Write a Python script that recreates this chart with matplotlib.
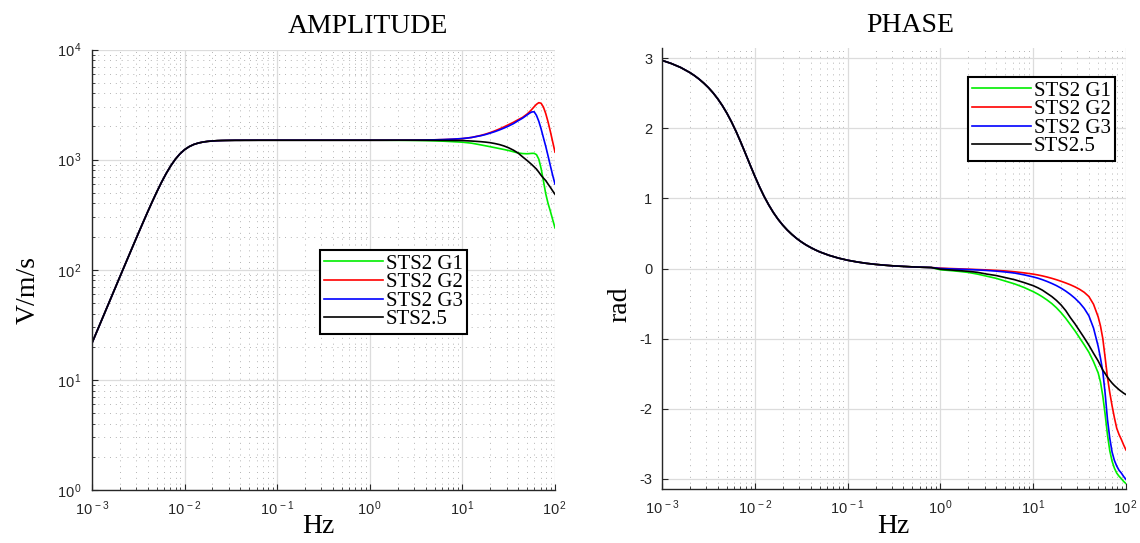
import numpy as np
import matplotlib
matplotlib.use('Agg')
import matplotlib.pyplot as plt
from matplotlib.ticker import LogLocator, FixedLocator, NullFormatter, FuncFormatter

# ---------------- data ----------------
series_names = ['STS2 G1', 'STS2 G2', 'STS2 G3', 'STS2.5']
series_colors = ['#00ee00', '#ff0000', '#0000ff', '#000000']

# sample frequencies, log10(Hz)
logf_low = [-3.0, -2.9, -2.8, -2.7, -2.65, -2.6, -2.55, -2.5, -2.45, -2.4,
            -2.35, -2.3, -2.25, -2.2, -2.15, -2.1, -2.05, -2.0, -1.95, -1.9,
            -1.85, -1.8, -1.75, -1.7, -1.65, -1.6, -1.55, -1.5, -1.45, -1.4,
            -1.35, -1.3, -1.2, -1.1, -1.0, -0.9, -0.8, -0.7, -0.6, -0.5,
            -0.4, -0.3, -0.2, -0.1]
logf_high = [0.0, 0.1, 0.2, 0.3, 0.4, 0.5, 0.6, 0.7, 0.8, 0.9, 1.0,
             1.05, 1.1, 1.15, 1.2, 1.25, 1.3, 1.35, 1.4, 1.45, 1.5, 1.55, 1.6, 1.65,
             1.7, 1.725, 1.75, 1.775, 1.8, 1.825, 1.85, 1.875, 1.9, 1.925, 1.95, 1.975, 2.0]

# shared low-frequency part (all sensors coincide), V/m/s and rad
amp_low = [21.6, 34.2, 54.2, 85.8, 107.9, 135.6, 170.3, 213.6, 267.3, 333.5,
           413.9, 509.8, 621.3, 745.6, 877.3, 1008, 1129, 1232, 1313, 1374,
           1416, 1445, 1465, 1477, 1486, 1491, 1494, 1496, 1498, 1498,
           1499, 1499, 1500, 1500, 1500, 1500, 1500, 1500, 1500, 1500,
           1500, 1500, 1500, 1500]
phase_low = [2.971, 2.926, 2.870, 2.797, 2.753, 2.703, 2.646, 2.582, 2.508, 2.423,
             2.326, 2.215, 2.090, 1.951, 1.799, 1.639, 1.477, 1.318, 1.168, 1.030,
             0.908, 0.799, 0.704, 0.621, 0.549, 0.486, 0.430, 0.381, 0.338, 0.301,
             0.267, 0.237, 0.188, 0.149, 0.118, 0.094, 0.074, 0.059, 0.047, 0.037,
             0.030, 0.023, 0.018, 0.014]

# high-frequency part, amplitude (V/m/s)
amp_g1 = [1500, 1500, 1499, 1498, 1496, 1493, 1488, 1480, 1470, 1455, 1440,
          1425, 1410, 1385, 1360, 1335, 1310, 1285, 1260, 1235, 1210, 1180, 1150, 1135,
          1130, 1135, 1140, 1140, 1110, 1010, 830, 640, 490, 400, 340, 285, 240]
amp_g2 = [1500, 1500, 1501, 1502, 1503, 1505, 1508, 1513, 1520, 1532, 1550,
          1570, 1590, 1625, 1660, 1705, 1760, 1825, 1900, 1985, 2080, 2180, 2300, 2420,
          2600, 2720, 2860, 3020, 3180, 3290, 3250, 3000, 2620, 2200, 1800, 1450, 1170]
amp_g3 = [1500, 1500, 1501, 1502, 1503, 1505, 1508, 1513, 1522, 1535, 1555,
          1570, 1590, 1620, 1650, 1690, 1740, 1795, 1860, 1935, 2020, 2120, 2250, 2380,
          2550, 2640, 2710, 2720, 2520, 2230, 1900, 1580, 1320, 1080, 880, 720, 600]
amp_sts25 = [1500, 1500, 1500, 1500, 1500, 1499, 1498, 1497, 1495, 1492, 1490,
             1482, 1475, 1465, 1455, 1442, 1425, 1400, 1370, 1330, 1280, 1220, 1150, 1060,
             980, 940, 900, 860, 820, 770, 720, 680, 645, 600, 560, 520, 485]

# high-frequency part, phase (rad)
phase_g1 = [-0.018, -0.029, -0.041, -0.056, -0.080, -0.110, -0.140, -0.180, -0.220, -0.270, -0.330,
            -0.365, -0.405, -0.450, -0.500, -0.560, -0.630, -0.710, -0.800, -0.890, -0.990, -1.090, -1.195, -1.330,
            -1.490, -1.620, -1.820, -2.080, -2.370, -2.600, -2.750, -2.850, -2.920, -2.965, -3.000, -3.040, -3.070]
phase_g2 = [0.005, 0.000, -0.005, -0.010, -0.015, -0.020, -0.027, -0.035, -0.047, -0.062, -0.080,
            -0.092, -0.106, -0.122, -0.140, -0.160, -0.182, -0.206, -0.232, -0.262, -0.297, -0.340, -0.400, -0.510,
            -0.690, -0.820, -1.000, -1.270, -1.550, -1.770, -1.960, -2.130, -2.280, -2.370, -2.440, -2.520, -2.590]
phase_g3 = [0.000, -0.005, -0.010, -0.015, -0.020, -0.028, -0.037, -0.050, -0.065, -0.090, -0.120,
            -0.138, -0.160, -0.185, -0.213, -0.244, -0.280, -0.322, -0.370, -0.425, -0.490, -0.570, -0.675, -0.850,
            -1.110, -1.280, -1.470, -1.780, -2.150, -2.420, -2.620, -2.740, -2.820, -2.880, -2.920, -2.970, -3.010]
phase_sts25 = [-0.010, -0.020, -0.030, -0.040, -0.055, -0.080, -0.100, -0.130, -0.160, -0.200, -0.245,
               -0.275, -0.310, -0.355, -0.400, -0.455, -0.520, -0.600, -0.700, -0.790, -0.890, -0.990, -1.095, -1.210,
               -1.320, -1.385, -1.450, -1.500, -1.550, -1.595, -1.635, -1.670, -1.700, -1.730, -1.755, -1.780, -1.800]

amp_series = [amp_g1, amp_g2, amp_g3, amp_sts25]
phase_series = [phase_g1, phase_g2, phase_g3, phase_sts25]

# ---------------- style ----------------
plt.rcParams['mathtext.fontset'] = 'custom'
plt.rcParams['mathtext.rm'] = 'Liberation Sans'
plt.rcParams['mathtext.it'] = 'Liberation Sans'
plt.rcParams['font.family'] = ['Liberation Sans', 'DejaVu Sans']

W, H = 1140, 543
fig = plt.figure(figsize=(W / 100, H / 100), dpi=100)


def ax_rect(x0, y0, x1, y1):
    return [x0 / W, 1 - y1 / H, (x1 - x0) / W, (y1 - y0) / H]


ax1 = fig.add_axes(ax_rect(92, 49.5, 555, 490))
ax2 = fig.add_axes(ax_rect(662, 48.4, 1126, 488.6))

freq = 10.0 ** np.array(logf_low + logf_high)

tick_color = '#262626'
serif = 'Liberation Serif'


def pow10_fmt(v, pos):
    e = int(round(np.log10(v)))
    return r'$\mathregular{10^{\,%d}}$' % e


for ax in (ax1, ax2):
    ax.set_xscale('log')
    ax.set_xlim(1e-3, 1e2)
    for s in ('top', 'right'):
        ax.spines[s].set_visible(False)
    for s in ('left', 'bottom'):
        ax.spines[s].set_color(tick_color)
        ax.spines[s].set_linewidth(1.0)
    ax.xaxis.set_major_locator(LogLocator(base=10, numticks=10))
    ax.xaxis.set_minor_locator(LogLocator(base=10, subs=np.arange(2, 10), numticks=20))
    ax.xaxis.set_minor_formatter(NullFormatter())
    ax.xaxis.set_major_formatter(FuncFormatter(pow10_fmt))
    ax.tick_params(which='both', direction='in', colors=tick_color, labelsize=10.5,
                   top=False, right=False)
    ax.tick_params(which='major', length=4, width=0.8, pad=7)
    ax.tick_params(which='minor', length=2.2, width=0.6)
    ax.grid(True, which='major', color='#dcdcdc', linewidth=0.9, linestyle='-')
    ax.set_axisbelow(True)

# minor grids (dotted)
ax1.grid(True, which='minor', color='#b4b4b4', linewidth=0.7, linestyle=(0, (1, 5)))
ax2.xaxis.grid(True, which='minor', color='#b4b4b4', linewidth=0.7, linestyle=(0, (1, 5)))

# amplitude
ax1.set_yscale('log')
ax1.set_ylim(1, 1e4)
ax1.yaxis.set_major_locator(LogLocator(base=10, numticks=10))
ax1.yaxis.set_minor_locator(LogLocator(base=10, subs=np.arange(2, 10), numticks=20))
ax1.yaxis.set_minor_formatter(NullFormatter())
ax1.yaxis.set_major_formatter(FuncFormatter(pow10_fmt))

for name, col, hi_part in zip(series_names, series_colors, amp_series):
    ax1.plot(freq, amp_low + hi_part, color=col, linewidth=1.2, label=name)

# phase
ax2.set_ylim(-np.pi, np.pi)
ax2.yaxis.set_major_locator(FixedLocator([-3, -2, -1, 0, 1, 2, 3]))
ax2.yaxis.set_major_formatter(FuncFormatter(lambda v, p: '%d' % v))
ax2.yaxis.set_minor_locator(FixedLocator([]))

for name, col, hi_part in zip(series_names, series_colors, phase_series):
    ax2.plot(freq, phase_low + hi_part, color=col, linewidth=1.2, label=name)

# legends
for ax, (lx, ly) in ((ax1, (320, 250)), (ax2, (968, 77))):
    leg = ax.legend(loc='upper left', bbox_to_anchor=(lx / W, 1 - ly / H),
                    bbox_transform=fig.transFigure, borderaxespad=0,
                    prop={'family': serif, 'size': 15}, frameon=True,
                    fancybox=False, framealpha=1, edgecolor='black',
                    handlelength=2.8, handletextpad=0.15, labelspacing=-0.05,
                    borderpad=0.2)
    leg.get_frame().set_linewidth(1.5)

# titles and labels
fig.text(367.5 / W, 1 - 33 / H, 'AMPLITUDE', family=serif, fontsize=20,
         ha='center', va='baseline', color='black')
fig.text(910 / W, 1 - 32.5 / H, 'PHASE', family=serif, fontsize=20,
         ha='center', va='baseline', color='black')
fig.text(318 / W, 1 - 533 / H, 'Hz', family=serif, fontsize=20,
         ha='center', va='baseline', color='black')
fig.text(893 / W, 1 - 533 / H, 'Hz', family=serif, fontsize=20,
         ha='center', va='baseline', color='black')
fig.text(28 / W, 1 - 290 / H, 'V/m/s', family=serif, fontsize=20,
         ha='center', va='center', rotation=90, color='black')
fig.text(620 / W, 1 - 304 / H, 'rad', family=serif, fontsize=20,
         ha='center', va='center', rotation=90, color='black')

fig.savefig('out.png', dpi=100, facecolor='white')
